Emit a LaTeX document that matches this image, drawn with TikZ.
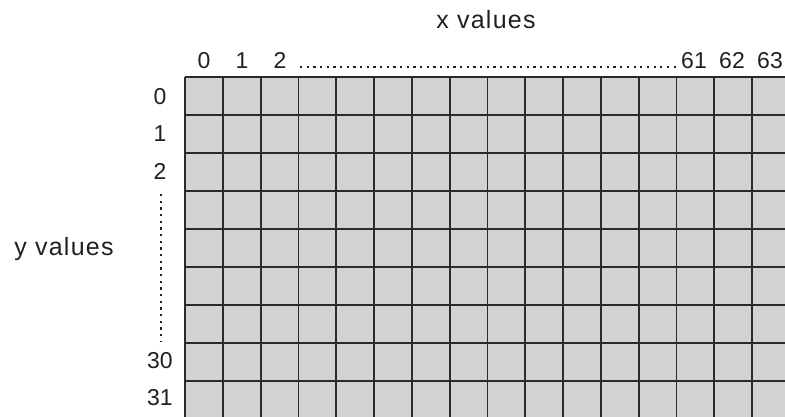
\documentclass[tikz,border=0pt]{standalone}
\usepackage{fontspec}
\setmainfont{Liberation Sans}
\definecolor{cellfill}{HTML}{D1D2D4}
\definecolor{gridline}{HTML}{2B2B2B}
\definecolor{labeltext}{HTML}{231F20}
\begin{document}
\begin{tikzpicture}[x=1pt,y=-1pt,
  idx/.style={font=\fontsize{23}{23}\selectfont, text=labeltext, inner sep=0pt},
  axistitle/.style={font=\fontsize{25}{25}\selectfont\addfontfeatures{LetterSpace=5}, text=labeltext, inner sep=0pt},
  gridrule/.style={draw=gridline, line width=1.8pt},
  leader/.style={draw=labeltext, line width=2.2pt, dash pattern=on 2.2pt off 4.47pt}]
\useasboundingbox (0,0) rectangle (785,417);
\clip (0,0) rectangle (785,417);
% grid
\fill[cellfill] (185,77) rectangle (795,422);
\foreach \i in {0,...,16} \draw[gridrule] (185+\i*37.8,77) -- (185+\i*37.8,422);
\foreach \j in {0,...,9} \draw[gridrule] (185,77+\j*38) -- (795,77+\j*38);
% column labels
\node[idx, anchor=base] (c0) at (204,68.5) {0};
\node[idx, anchor=base] (c1) at (242,68.5) {1};
\node[idx, anchor=base] (c2) at (280,68.5) {2};
\node[idx, anchor=base] (c61) at (694,68.5) {61};
\node[idx, anchor=base] (c62) at (732,68.5) {62};
\node[idx, anchor=base] (c63) at (770,68.5) {63};
% row labels
\node[idx] (r0) at (160,97) {0};
\node[idx] (r1) at (160,134) {1};
\node[idx] (r2) at (160,171) {2};
\node[idx] (r30) at (160,361) {30};
\node[idx] (r31) at (160,398) {31};
% titles
\node[axistitle, anchor=base] (xt) at (486,28.5) {x values};
\node[axistitle, anchor=base] (yt) at (64,255) {y values};
% leaders
\coordinate (hs) at (300,66.8);
\coordinate (he) at (680,66.8);
\coordinate (vs) at (161,194);
\coordinate (ve) at (161,342);
\draw[leader] (hs) -- (he);
\draw[leader] (vs) -- (ve);
\end{tikzpicture}
\end{document}
